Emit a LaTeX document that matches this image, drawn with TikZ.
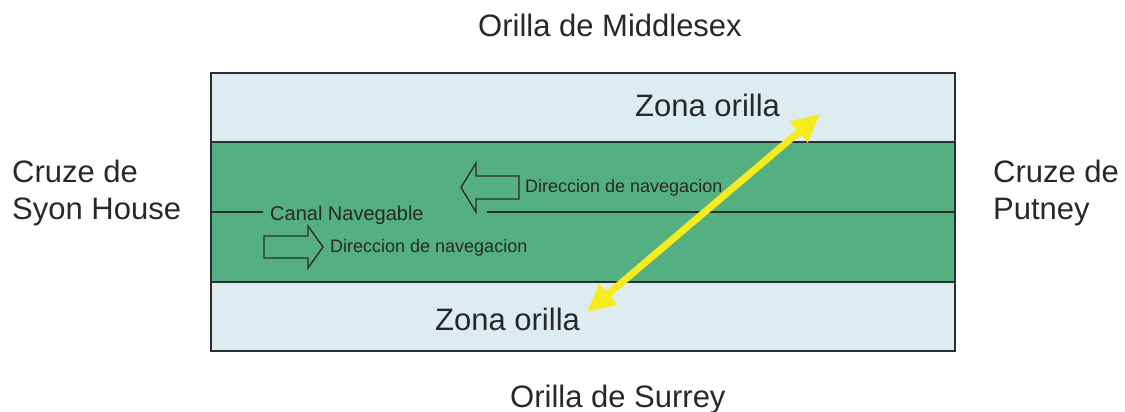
\documentclass[tikz,border=0pt]{standalone}
\usepackage{fontspec}
\setmainfont{Liberation Sans}
\usetikzlibrary{arrows.meta}
\definecolor{bankblue}{RGB}{221,236,241}
\definecolor{river}{RGB}{84,176,128}
\definecolor{arrowyellow}{RGB}{246,235,30}
\definecolor{ink}{RGB}{40,40,40}
\definecolor{edge}{RGB}{45,45,45}
\tikzset{
  bigtext/.style={font=\fontsize{31}{31}\selectfont, text=ink, inner sep=0pt, anchor=base west},
  midtext/.style={font=\fontsize{20}{20}\selectfont, text=ink, inner sep=0pt, anchor=base west},
  smalltext/.style={font=\fontsize{18}{18}\selectfont, text=ink, inner sep=0pt, anchor=base west},
  border/.style={draw=edge, line width=1.6pt},
  hollowarrow/.style={draw=edge, line width=1.4pt, line join=miter},
  crossing/.style={draw=arrowyellow, line width=7pt, {Triangle[length=28pt,width=26pt]}-{Triangle[length=28pt,width=26pt]}},
}
\begin{document}
\begin{tikzpicture}[x=1pt,y=-1pt]
\useasboundingbox (0,0) rectangle (1125,412);
% bands
\fill[bankblue] (211,73) rectangle (955,142);
\fill[river] (211,142) rectangle (955,282);
\fill[bankblue] (211,282) rectangle (955,351);
\draw[border] (211,142) -- (955,142);
\draw[border] (211,282) -- (955,282);
\draw[border] (211,73) rectangle (955,351);
% labels outside
\node[bigtext] (middlesex) at (478,37) {Orilla de Middlesex};
\node[bigtext] (surrey) at (510,407) {Orilla de Surrey};
\node[bigtext] (syon1) at (12,182) {Cruze de};
\node[bigtext] (syon2) at (12,219) {Syon House};
\node[bigtext] (putney1) at (993,182) {Cruze de};
\node[bigtext] (putney2) at (993,219) {Putney};
% zone labels
\node[bigtext] (zonetop) at (635,117) {Zona orilla};
\node[bigtext] (zonebot) at (435,330) {Zona orilla};
% centre line
\node[midtext] (canal) at (270,220) {Canal Navegable};
\coordinate (cl1) at (211,212);
\coordinate (cl2) at (263,212);
\coordinate (cr1) at (487,212);
\coordinate (cr2) at (955,212);
\draw[border] (cl1) -- (cl2);
\draw[border] (cr1) -- (cr2);
% hollow arrows
\draw[hollowarrow] (461,187.5) -- (476,163) -- (476,176) -- (519,176) -- (519,199) -- (476,199) -- (476,212) -- cycle;
\node[smalltext] (dirup) at (525,192) {Direccion de navegacion};
\draw[hollowarrow] (323,247) -- (308,226) -- (308,236) -- (264,236) -- (264,258) -- (308,258) -- (308,268) -- cycle;
\node[smalltext] (dirdown) at (330,252) {Direccion de navegacion};
% yellow crossing arrow
\coordinate (ytop) at (820,114);
\coordinate (ybot) at (587,312);
\draw[crossing] (ybot) -- (ytop);
\end{tikzpicture}
\end{document}
